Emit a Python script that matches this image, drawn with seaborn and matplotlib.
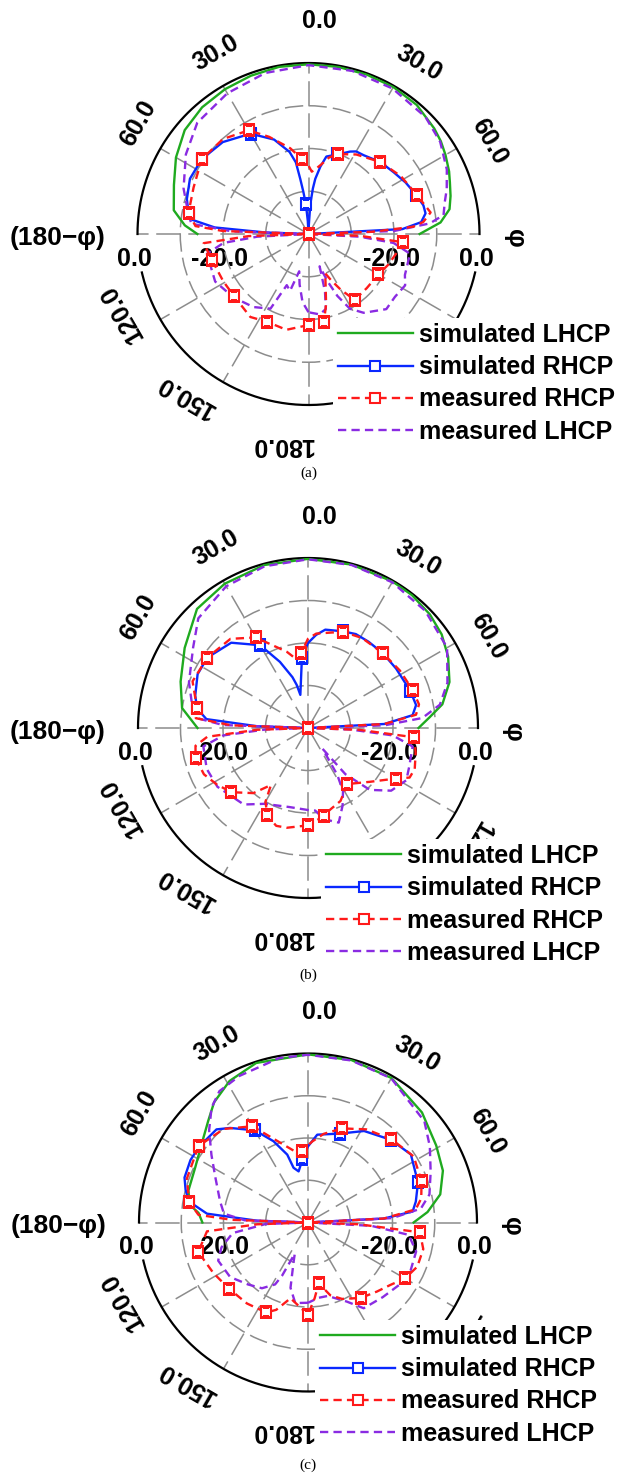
import numpy as np
import matplotlib
matplotlib.use("Agg")
import matplotlib.pyplot as plt
import seaborn as sns

plt.rcParams["font.family"] = ["Liberation Sans", "DejaVu Sans"]

# ---------------- panel (a) ----------------
a_sim_lhcp_ang = [-90, -86, -80, -70, -60, -50, -40, -30, -20, -10, 0, 10, 20, 30, 40, 50, 55, 60, 66, 70, 75, 80, 85, 90]
a_sim_lhcp_db = [-14, -11, -8.0, -6.5, -4.2, -2.2, -1.3, -0.9, -0.6, -0.3, -0.3, -0.3, -0.3, -0.3, -0.6, -1.6, -2.2, -3.0, -4.0, -4.8, -5.6, -6.5, -9, -14]

a_sim_rhcp_ang = [-90, -88, -86, -83, -80, -74, -65, -55, -43, -30, -20, -13, -10, -8.5, -7, -5, -3, 0, 2, 3.5,
                  5.5, 7, 10, 13, 20, 26.8, 30, 35, 45, 54, 62, 70, 76, 80, 84, 87, 90]
a_sim_rhcp_db = [-40, -30, -18, -12.5, -11.5, -10.4, -9.4, -9.5, -10.6, -12.9, -16.5, -20.3, -23, -27, -30, -33, -37, -40, -38, -33,
                 -29.3, -27, -24, -21.4, -20.2, -18.4, -17.7, -17.5, -16.2, -15.4, -14.3, -13.2, -12.3, -12.2, -13.5, -18, -40]

a_meas_rhcp_ang = [-180, -167, -155, -145, -130, -119, -105, -95, -92, -90, -88, -86, -80, -68, -55, -42, -30, -22, -12, -5,
                   0, 3, 7, 10, 15, 20, 31, 45, 58, 70, 80, 84, 86, 88, 90, 92, 95, 102, 111, 120,
                   133, 145, 150, 154, 157, 162, 166, 170, 175, 180]
a_meas_rhcp_db = [-18.7, -17, -17.3, -16.3, -17.3, -17.2, -16.6, -15.4, -26, -40, -20, -13.5, -11.5, -11, -9.5, -10.1, -12, -15.5, -19.5, -22.4,
                  -24, -25.4, -24.5, -23.6, -21.5, -20.1, -18.3, -16.2, -14.5, -13.1, -11, -13, -15.4, -25, -40, -28, -17.7, -18.9, -20, -21.1,
                  -21.4, -21.2, -25, -28, -30, -27, -23, -19.2, -18.8, -18.7]

a_meas_lhcp_ang = [-180, -175, -170, -166, -162, -157, -153, -143, -130, -117, -101, -96, -93, -90, -88, -85, -81, -70, -57, -45,
                   -30, -15, 0, 15, 30, 45, 55, 65, 72, 77, 82, 85, 88, 90, 93, 96, 101, 113, 118, 126,
                   134, 145, 151, 155, 158, 161, 164, 167, 172, 180]
a_meas_lhcp_db = [-21.7, -24, -28, -31, -26, -27, -20.4, -18.6, -17, -15.5, -15.8, -20, -28, -40, -22, -12.5, -11.6, -8.9, -5.8, -3.2,
                  -2, -1, -0.5, -0.5, -0.7, -1.3, -2.4, -4.3, -6, -7.3, -8.1, -11.5, -20, -40, -28, -20, -15.8, -15.5, -14.4, -15,
                  -14.7, -17.5, -20, -24, -28, -32, -26, -22, -21, -21.7]

# ---------------- panel (b) ----------------
b_sim_lhcp_ang = [-90, -85, -81, -70, -57, -43, -30, -15, 0, 15, 30, 38, 47, 55, 63, 72, 80, 85, 90]
b_sim_lhcp_db = [-14, -12, -10, -8.1, -5.4, -1.7, -0.8, -0.3, -0.2, -0.2, -0.2, -0.3, -0.8, -1.6, -3.0, -5, -7.9, -11.3, -14]

b_sim_rhcp_ang = [-90, -88, -85, -80, -74, -64, -55, -42, -30, -23, -17, -14.7, -13, -5, 0, 5, 10, 20, 27, 35,
                  45, 56, 70, 78, 83, 87, 90]
b_sim_rhcp_db = [-40, -28, -16, -13.5, -12.4, -11.1, -11.1, -13, -17.5, -23.1, -27.5, -29.5, -32, -23.5, -20, -18, -16.5, -15.8, -15.2, -15.2,
                 -15.1, -15, -14.4, -14, -15.2, -22, -40]

b_meas_rhcp_ang = [-180, -168, -162, -155, -150, -147, -140, -130, -122, -114, -105, -99, -95, -92, -90, -88, -85, -80, -68, -55,
                   -41, -30, -15.5, -10.5, -5, 0, 5, 20, 31, 45, 58, 70, 78, 83, 87, 90, 92, 95, 103, 111,
                   116, 120, 131, 145, 156, 166, 170, 180]
b_meas_rhcp_db = [-17.1, -16, -15.8, -17.3, -20, -24, -20, -16.5, -14.8, -13.2, -12.6, -13.2, -16.2, -28, -40, -22, -13.5, -13.5, -10.7, -11.1,
                  -12.2, -15.4, -21.4, -23.3, -22.2, -19, -17.7, -15.9, -15.3, -15.1, -14.5, -13.8, -13.3, -14.4, -22, -40, -28, -14.9, -14.0, -13.1,
                  -13.4, -16.2, -20.7, -23.9, -21.2, -19.9, -18.9, -17.1]

b_meas_lhcp_ang = [-180, -167, -150, -140, -123, -112, -100, -95, -92, -90, -88, -85, -80, -69, -55, -45, -30, -15, 0, 15,
                   30, 45, 60, 72, 80, 85, 88, 90, 92, 95, 100, 111, 118, 127, 135, 141, 145, 148, 151, 156,
                   162, 170, 175, 180]
b_meas_lhcp_db = [-20.7, -20.9, -19.4, -16.5, -14.6, -14.3, -15, -20, -30, -40, -20, -14, -12.4, -10, -7, -3.5, -1.5, -0.6, -0.3, -0.3,
                  -0.4, -1, -2.2, -5.5, -8.5, -13, -22, -40, -30, -20, -15, -14.5, -13.8, -15.5, -19.4, -26, -34, -27, -23, -20,
                  -16.6, -18.2, -20.5, -20.7]

# ---------------- panel (c) ----------------
c_sim_lhcp_ang = [-90, -85, -81.5, -75, -64, -54, -44.5, -38, -29, -18, 0, 15, 30, 46, 59, 69, 78, 85, 90]
c_sim_lhcp_db = [-15, -14, -11.7, -10.7, -10.3, -8.8, -6.3, -3.9, -1.7, -0.3, -0.2, -0.2, -0.5, -2.5, -4.6, -5.8, -8.0, -11.6, -15]

c_sim_rhcp_ang = [-90, -88, -85, -80, -75, -70, -62, -55, -44.5, -39.5, -30, -23, -17, -14.8, -10.4, -5, 0, 6, 20, 31.5,
                  45, 56.5, 70, 79, 84, 87, 90]
c_sim_rhcp_db = [-40, -28, -16, -11.4, -10, -8.9, -8.5, -8.6, -9.1, -11, -14.8, -19.1, -23.2, -26.6, -27.7, -25, -22, -19.1, -17.6, -14.6,
                 -12.3, -10.8, -12.3, -14, -15.1, -22, -40]

c_meas_rhcp_ang = [-180, -167, -160, -155, -143, -130, -118, -105, -95, -92, -90, -88, -86, -80, -70, -55, -42, -30, -17.4, -10,
                   -5, 3, 10, 20, 32, 45, 58, 70, 78, 83, 87, 90, 92, 95, 103, 112, 120, 127, 135, 145,
                   156, 163, 170, 175, 180]
c_meas_rhcp_db = [-18.2, -21.6, -18, -16.5, -16, -15.6, -14.6, -13.1, -16, -28, -40, -22, -14, -11.4, -9.5, -8.4, -10.2, -13.7, -20.7, -23,
                  -23, -20.8, -18.7, -16.3, -14, -12.1, -10.5, -11.4, -12.6, -14.3, -22, -40, -28, -13.4, -12, -12.1, -13.5, -15.5, -16.9, -18.2,
                  -20.2, -22, -25.4, -22, -18.2]

c_meas_lhcp_ang = [-180, -171, -165, -160, -157, -154, -152, -145, -136, -125, -113, -106, -98, -92, -90, -88, -84, -76.5, -64, -55,
                   -47, -40, -34, -25, -10, 0, 15, 30, 49, 58, 67.6, 77, 83, 87, 90, 93, 97, 105, 115, 123.5,
                   135, 147, 154, 165, 172, 180]
c_meas_lhcp_db = [-21, -20.7, -24, -30, -32, -26, -23.4, -21, -19.6, -17.5, -16.9, -18.7, -22, -30, -40, -25, -20, -18.6, -15.6, -12.1,
                  -8, -4.5, -2.5, -1.7, -0.5, -0.3, -0.3, -0.6, -3.5, -6, -8.6, -10.5, -13.1, -20, -40, -25, -16, -13.5, -13.2, -13.7,
                  -15, -15.8, -19.2, -22, -22, -21]

series_labels = ["simulated LHCP", "simulated RHCP", "measured RHCP", "measured LHCP"]
angle_ticks = [0, 30, -30, 60, -60, 120, -120, -150, 180]
radial_ticks = [0.0, -20.0]
ring_levels = [-30, -20, -10]
db_floor, db_top = -40.0, 0.0
sim_marks = [-80, -55, -30, -5, 20, 45, 70, 90]
meas_marks = [-180, -155, -130, -105, -80, -55, -30, -5, 20, 45, 70, 95, 120, 145, 170, 90]
captions = ["(a)", "(b)", "(c)"]

# ---------------- drawing ----------------
W, H = 619, 1476
GRID = "#8c8c8c"
C_GREEN, C_BLUE, C_RED, C_PURPLE = "#1faa1f", "#0a28ff", "#ff1a1a", "#8a2be2"

fig = plt.figure(figsize=(W / 100, H / 100), dpi=100)
fig.patch.set_facecolor("white")


def trace(ax, ang, db, color, ls, marks, z):
    ang = np.asarray(ang, float)
    idx = [i for i, a in enumerate(ang) if any(abs(a - m) < 1e-6 for m in marks)] if marks else None
    kw = dict(x=np.deg2rad(ang), y=np.asarray(db, float), ax=ax, color=color, lw=1.7,
              sort=False, estimator=None, linestyle=ls, zorder=z)
    if marks:
        kw.update(marker="s", markevery=idx, markersize=6.5, markerfacecolor="white",
                  markeredgecolor=color, markeredgewidth=1.5)
    sns.lineplot(**kw)
    return ax.lines[-1]


def panel(geom, curves, legend_anchor, caption, caption_y):
    cx, cy, R = geom
    ax = fig.add_axes([(cx - R) / W, (H - cy - R) / H, 2 * R / W, 2 * R / H], projection="polar")
    ax.set_theta_zero_location("N")
    ax.set_theta_direction(-1)
    ax.set_ylim(db_floor, db_top)
    ax.set_thetagrids(range(0, 360, 30), labels=[""] * 12)
    ax.set_rgrids(ring_levels, labels=[""] * len(ring_levels))
    ax.xaxis.grid(True, color=GRID, lw=1.1, linestyle=(0, (16, 5)))
    ax.yaxis.grid(True, color=GRID, lw=1.1, linestyle=(0, (12, 4)))
    ax.spines["polar"].set_visible(False)
    ax.tick_params(length=0, pad=0)
    ax.set_autoscale_on(False)

    # outer 0 dB boundary, open where the radial labels sit
    for t0, t1 in [(-90, 90), (103, 257)]:
        th = np.deg2rad(np.linspace(t0, t1, 200))
        ax.plot(th, np.full_like(th, db_top), color="black", lw=1.6, clip_on=False, zorder=2.0)

    (sl_a, sl_d), (sr_a, sr_d), (mr_a, mr_d), (ml_a, ml_d) = curves
    h1 = trace(ax, sl_a, sl_d, C_GREEN, "-", None, 2.1)
    h2 = trace(ax, sr_a, sr_d, C_BLUE, "-", sim_marks, 2.2)
    h4 = trace(ax, ml_a, ml_d, C_PURPLE, (0, (3.5, 2.2)), None, 2.3)
    h3 = trace(ax, mr_a, mr_d, C_RED, (0, (3.5, 2.2)), meas_marks, 2.4)
    ax.set_xlabel("")
    ax.set_ylabel("")
    ax.set_ylim(db_floor, db_top)

    # angle labels written along the rim
    span = db_top - db_floor
    for v in angle_ticks:
        off = 3 if abs(v) <= 90 else 7
        r_lab = db_top + (0.245 if v in (0, 180) else 0.19) * span
        ax.text(np.deg2rad(v + off), r_lab, f"{abs(v):.1f}", rotation=-v, rotation_mode="anchor",
                ha="center", va="center", fontsize=18, fontweight="bold", zorder=1)

    # radial scale labels under the horizontal axis
    for side in (-90, 90):
        for val in radial_ticks:
            ax.annotate(f"{val:.1f}", xy=(np.deg2rad(side), val), xytext=(-3, -25),
                        textcoords="offset pixels", ha="center", va="center",
                        fontsize=18, fontweight="bold", zorder=1, annotation_clip=False)
    ax.annotate("(180\u2212\u03c6)", xy=(np.deg2rad(-90), db_top), xytext=(-80, -4),
                textcoords="offset pixels", ha="center", va="center", fontsize=19,
                fontweight="bold", annotation_clip=False)
    ax.annotate("\u03c6", xy=(np.deg2rad(90), db_top), xytext=(35, -4),
                textcoords="offset pixels", ha="center", va="center", fontsize=19,
                fontweight="bold", rotation=-90, annotation_clip=False)

    lx, ly = legend_anchor
    leg = ax.legend([h1, h2, h3, h4], series_labels, loc="upper left",
                    bbox_to_anchor=(lx / W, 1 - ly / H), bbox_transform=fig.transFigure,
                    frameon=True, framealpha=1, facecolor="white", edgecolor="none",
                    prop={"weight": "bold", "size": 18}, handlelength=3.0, handletextpad=0.25,
                    labelspacing=0.33, borderpad=0.2, borderaxespad=0, numpoints=1)
    leg.set_zorder(6)

    fig.text(cx / W, 1 - caption_y / H, caption, ha="center", va="center",
             fontsize=11, family=["Liberation Serif", "DejaVu Serif"])
    return ax


panel((308.5, 234, 171),
      [(a_sim_lhcp_ang, a_sim_lhcp_db), (a_sim_rhcp_ang, a_sim_rhcp_db),
       (a_meas_rhcp_ang, a_meas_rhcp_db), (a_meas_lhcp_ang, a_meas_lhcp_db)],
      (333, 318), captions[0], 473)
panel((308, 728, 170),
      [(b_sim_lhcp_ang, b_sim_lhcp_db), (b_sim_rhcp_ang, b_sim_rhcp_db),
       (b_meas_rhcp_ang, b_meas_rhcp_db), (b_meas_lhcp_ang, b_meas_lhcp_db)],
      (321, 839), captions[1], 975)
panel((308, 1222.5, 169),
      [(c_sim_lhcp_ang, c_sim_lhcp_db), (c_sim_rhcp_ang, c_sim_rhcp_db),
       (c_meas_rhcp_ang, c_meas_rhcp_db), (c_meas_lhcp_ang, c_meas_lhcp_db)],
      (315, 1320), captions[2], 1465)

fig.savefig("out.png", dpi=100, facecolor="white")
